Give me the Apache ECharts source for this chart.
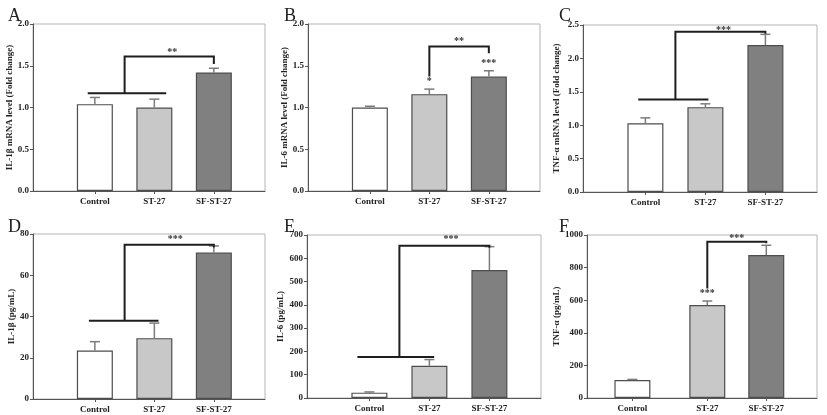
<!DOCTYPE html>
<html>
<head>
<meta charset="utf-8">
<script src="https://cdn.jsdelivr.net/npm/echarts@6/dist/echarts.min.js"></script>
<style>
html,body{margin:0;padding:0;background:#fff;}
#chart{width:827px;height:415px;}
</style>
</head>
<body>
<div id="chart"></div>
<script>
// ---- data ----
const categories = ['Control', 'ST-27', 'SF-ST-27'];
const panelLetters = ['A', 'B', 'C', 'D', 'E', 'F'];
const yAxisNames = [
  'IL-1β mRNA level (Fold change)',
  'IL-6 mRNA level (Fold change)',
  'TNF-α mRNA level (Fold change)',
  'IL-1β (pg/mL)',
  'IL-6 (pg/mL)',
  'TNF-α (pg/mL)'
];
const yMax = [2, 2, 2.5, 80, 700, 1000];
const yStep = [0.5, 0.5, 0.5, 20, 100, 200];
const yDecimals = [1, 1, 1, 0, 0, 0];

// x positions of the three groups in each panel (panel F's Control sits further left)
const xPosStd = [0, 1, 2];
const xPosF = [-0.27, 1, 2];

const meansA = [1.04, 1.00, 1.42];
const errA = [0.08, 0.10, 0.05];
const meansB = [1.00, 1.16, 1.37];
const errB = [0.015, 0.06, 0.07];
const meansC = [1.03, 1.27, 2.20];
const errC = [0.08, 0.05, 0.16];
const meansD = [23.5, 29.5, 71.0];
const errD = [4.3, 7.3, 3.2];
const meansE = [23, 138, 550];
const errE = [3, 27, 100];
const meansF = [110, 570, 877];
const errF = [4, 25, 60];

// significance annotations (heights in data units)
const bracketsA = [{ kind: 'group', lowFrom: -0.12, lowTo: 1.2, lowY: 1.17, topY: 1.61, endY: 1.52, text: '**', textX: 1.3, textY: 1.665 }];
const bracketsB = [{ kind: 'pair', startY: 1.37, topY: 1.73, endY: 1.65, text: '**', textX: 1.5, textY: 1.79 }];
const bracketsC = [{ kind: 'group', lowFrom: -0.12, lowTo: 1.05, lowY: 1.385, topY: 2.40, endY: 2.37, text: '***', textX: 1.3, textY: 2.42 }];
const bracketsD = [{ kind: 'group', lowFrom: -0.1, lowTo: 1.07, lowY: 38.0, topY: 74.8, endY: 73.5, text: '***', textX: 1.35, textY: 77.5 }];
const bracketsE = [{ kind: 'group', lowFrom: -0.2, lowTo: 1.08, lowY: 176, topY: 654, endY: 645, text: '***', textX: 1.36, textY: 680 }];
const bracketsF = [{ kind: 'pair', startY: 672, topY: 959, endY: 950, text: '***', textX: 1.5, textY: 978 }];

const starsA = [];
const starsB = [{ x: 1, y: 1.31, text: '*' }, { x: 2, y: 1.53, text: '***' }];
const starsC = [];
const starsD = [];
const starsE = [];
const starsF = [{ x: 1, y: 640, text: '***' }];

const barColors = ['#ffffff', '#c8c8c8', '#808080'];

// ---- layout ----
const grids = [
  { left: 33, top: 24, width: 232, height: 167 },
  { left: 308, top: 24, width: 232, height: 167 },
  { left: 583, top: 25, width: 234, height: 167 },
  { left: 33, top: 234, width: 232, height: 165 },
  { left: 307, top: 235, width: 234, height: 163 },
  { left: 587, top: 235, width: 230, height: 163 }
];
const nameGaps = [19, 15, 22, 17, 18, 20];
const letterPos = [[3, 2], [279, 2], [554, 2], [3, 213], [279, 213], [554, 213]];

const allMeans = [meansA, meansB, meansC, meansD, meansE, meansF];
const allErr = [errA, errB, errC, errD, errE, errF];
const allXPos = [xPosStd, xPosStd, xPosStd, xPosStd, xPosStd, xPosF];
const allBrackets = [bracketsA, bracketsB, bracketsC, bracketsD, bracketsE, bracketsF];
const allStars = [starsA, starsB, starsC, starsD, starsE, starsF];

const SERIF = '"Liberation Serif", "DejaVu Serif", serif';
const chart = echarts.init(document.getElementById('chart'), null, { renderer: 'canvas' });

const option = {
  backgroundColor: '#ffffff',
  animation: false,
  title: panelLetters.map((t, i) => ({
    text: t, left: letterPos[i][0], top: letterPos[i][1],
    textStyle: { fontFamily: SERIF, fontWeight: 'normal', fontSize: 18, color: '#222' }
  })),
  grid: grids.map(g => Object.assign({ show: true, borderColor: '#b5b5b5', borderWidth: 1, backgroundColor: 'transparent' }, g)),
  xAxis: grids.map((g, i) => ({
    gridIndex: i, type: 'value', min: -1.04, max: 2.86,
    splitLine: { show: false },
    axisLine: { show: true, onZero: false, lineStyle: { color: '#555', width: 1 } },
    axisTick: { show: true, customValues: allXPos[i], length: 3, lineStyle: { color: '#555' } },
    axisLabel: {
      customValues: allXPos[i],
      formatter: v => { const k = allXPos[i].findIndex(p => Math.abs(p - v) < 1e-6); return k >= 0 ? categories[k] : ''; },
      margin: 6, fontFamily: SERIF, fontWeight: 'bold', fontSize: 9, color: '#222'
    }
  })),
  yAxis: grids.map((g, i) => ({
    gridIndex: i, type: 'value', min: 0, max: yMax[i], interval: yStep[i],
    name: yAxisNames[i], nameLocation: 'middle', nameGap: nameGaps[i],
    nameTextStyle: { fontFamily: SERIF, fontWeight: 'bold', fontSize: 9, color: '#222' },
    splitLine: { show: false },
    axisLine: { show: true, onZero: false, lineStyle: { color: '#555', width: 1 } },
    axisTick: { show: true, length: 3, lineStyle: { color: '#555' } },
    axisLabel: {
      margin: 4, fontFamily: SERIF, fontWeight: 'bold', fontSize: 9, color: '#222',
      formatter: v => v.toFixed(yDecimals[i])
    }
  })),
  series: []
};

for (let i = 0; i < 6; i++) {
  const means = allMeans[i], errs = allErr[i], xs = allXPos[i];
  option.series.push({
    type: 'bar', xAxisIndex: i, yAxisIndex: i, barWidth: 36, z: 2,
    data: means.map((v, k) => ({ value: [xs[k], v], itemStyle: { color: barColors[k] } })),
    itemStyle: { borderColor: '#4d4d4d', borderWidth: 1.2 }
  });
  option.series.push({
    type: 'custom', xAxisIndex: i, yAxisIndex: i, z: 3, clip: false,
    data: means.map((v, k) => [xs[k], v, errs[k]]),
    renderItem: (params, api) => {
      const x = api.value(0), m = api.value(1), e = api.value(2);
      const p0 = api.coord([x, m]), p1 = api.coord([x, m + e]);
      const st = { stroke: '#7c7c7c', lineWidth: 1.5 };
      return { type: 'group', children: [
        { type: 'line', shape: { x1: p0[0], y1: p0[1], x2: p1[0], y2: p1[1] }, style: st },
        { type: 'line', shape: { x1: p1[0] - 5, y1: p1[1], x2: p1[0] + 5, y2: p1[1] }, style: st }
      ] };
    }
  });
  const brackets = allBrackets[i];
  option.series.push({
    type: 'custom', xAxisIndex: i, yAxisIndex: i, z: 4, clip: false,
    data: brackets.map((b, j) => [0, 0, j]),
    renderItem: (params, api) => {
      const b = brackets[params.dataIndex];
      const st = { stroke: '#1e1e1e', lineWidth: 2, fill: null };
      const children = [];
      let pts;
      if (b.kind === 'group') {
        const a = api.coord([b.lowFrom, b.lowY]), c = api.coord([b.lowTo, b.lowY]);
        children.push({ type: 'line', shape: { x1: a[0], y1: a[1], x2: c[0], y2: c[1] }, style: st });
        pts = [[0.5, b.lowY], [0.5, b.topY], [2, b.topY], [2, b.endY]];
      } else {
        pts = [[1, b.startY], [1, b.topY], [2, b.topY], [2, b.endY]];
      }
      children.push({ type: 'polyline', shape: { points: pts.map(p => api.coord(p)) }, style: st });
      const tp = api.coord([b.textX, b.textY]);
      children.push({ type: 'text', x: tp[0], y: tp[1], style: { text: b.text, align: 'center', verticalAlign: 'middle', font: 'bold 10px ' + SERIF, fill: '#333' } });
      return { type: 'group', children };
    }
  });
  const stars = allStars[i];
  if (stars.length) {
    option.series.push({
      type: 'custom', xAxisIndex: i, yAxisIndex: i, z: 4, clip: false,
      data: stars.map(s => [s.x, s.y]),
      renderItem: (params, api) => {
        const s = stars[params.dataIndex];
        const p = api.coord([api.value(0), api.value(1)]);
        return { type: 'text', x: p[0], y: p[1], style: { text: s.text, align: 'center', verticalAlign: 'middle', font: 'bold 10px ' + SERIF, fill: '#333' } };
      }
    });
  }
}

chart.setOption(option);
</script>
</body>
</html>
